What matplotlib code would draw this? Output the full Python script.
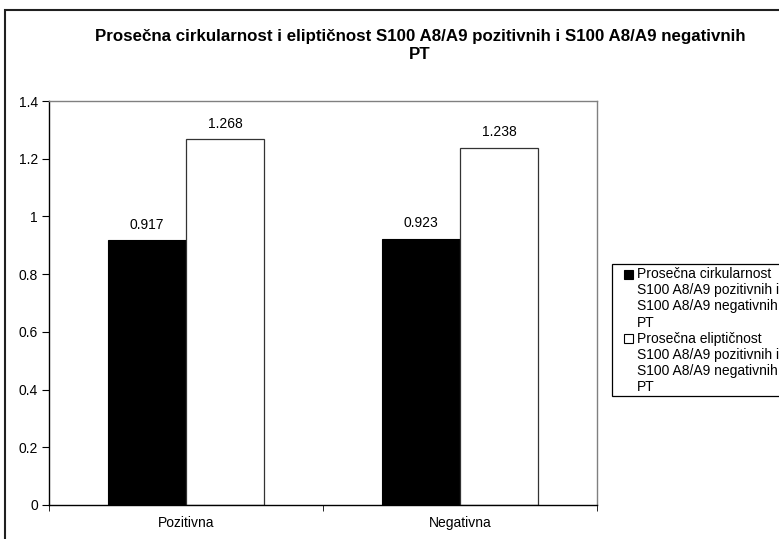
import numpy as np
import matplotlib.pyplot as plt
from matplotlib.patches import Rectangle

plt.rcParams['font.family'] = ['Liberation Sans', 'DejaVu Sans']

categories = ['Pozitivna', 'Negativna']
cirkularnost = [0.917, 0.923]
elipticnost = [1.268, 1.238]
series_names = ['Prosečna cirkularnost\nS100 A8/A9 pozitivnih i\nS100 A8/A9 negativnih\nPT',
                'Prosečna eliptičnost\nS100 A8/A9 pozitivnih i\nS100 A8/A9 negativnih\nPT']
series_colors = ['black', 'white']
title = 'Prosečna cirkularnost i eliptičnost S100 A8/A9 pozitivnih i S100 A8/A9 negativnih\nPT'
yticks = [0, 0.2, 0.4, 0.6, 0.8, 1.0, 1.2, 1.4]
ytick_labels = ['0', '0.2', '0.4', '0.6', '0.8', '1', '1.2', '1.4']

W, H = 779, 539
fig = plt.figure(figsize=(W / 100, H / 100), dpi=100)


def fx(px):
    return px / W


def fy(py):
    return 1 - py / H


ax = fig.add_axes([fx(49), fy(505), 548 / W, 404 / H])

x = np.arange(len(categories))
bw = 1 / 3.5
ax.bar(x - bw / 2, cirkularnost, bw, color='black', edgecolor='black', linewidth=0.8)
ax.bar(x + bw / 2, elipticnost, bw, color='white', edgecolor='#333333', linewidth=0.9)

for xs, vals in [(x - bw / 2, cirkularnost), (x + bw / 2, elipticnost)]:
    for xi, v in zip(xs, vals):
        ax.annotate(f'{v:.3f}', (xi, v), xytext=(0, 6), textcoords='offset points',
                    ha='center', va='bottom', fontsize=10)

ax.set_xlim(-0.5, 1.5)
ax.set_ylim(0, 1.4)
ax.set_yticks(yticks)
ax.set_yticklabels(ytick_labels, fontsize=10)
ax.set_xticks(x)
ax.set_xticklabels(categories, fontsize=10)
ax.set_xticks([-0.5, 0.5, 1.5], minor=True)
ax.tick_params(axis='x', which='major', length=0, pad=8)
ax.tick_params(axis='x', which='minor', length=4, direction='out')
ax.tick_params(axis='y', length=5, direction='out', pad=3)
for s in ['top', 'right']:
    ax.spines[s].set_color('#808080')
    ax.spines[s].set_linewidth(1)
for s in ['left', 'bottom']:
    ax.spines[s].set_color('black')
    ax.spines[s].set_linewidth(1)

fig.text(fx(420), fy(29), title, ha='center', va='top', fontsize=12.2,
         fontweight='bold', linespacing=1.22)

# legend drawn by hand so the marker sits on the first line of each entry
fig.patches.append(Rectangle((fx(612), fy(396)), 0.5, 132 / H,
                             transform=fig.transFigure, facecolor='white',
                             edgecolor='black', linewidth=0.9))
row = 0
for name, col in zip(series_names, series_colors):
    lines = name.split('\n')
    y0 = 274 + 16.2 * row
    fig.patches.append(Rectangle((fx(624), fy(y0 + 4.5)), 9 / W, 9 / H,
                                 transform=fig.transFigure, facecolor=col,
                                 edgecolor='black', linewidth=0.8))
    for ln in lines:
        fig.text(fx(637), fy(274 + 16.2 * row), ln, ha='left', va='center',
                 fontsize=10)
        row += 1

fig.patches.append(Rectangle((fx(5), -0.1), 1.2, 1.1 - 10 / H,
                             transform=fig.transFigure, fill=False,
                             edgecolor='#202020', linewidth=1.5))

fig.savefig('out.png', dpi=100)
